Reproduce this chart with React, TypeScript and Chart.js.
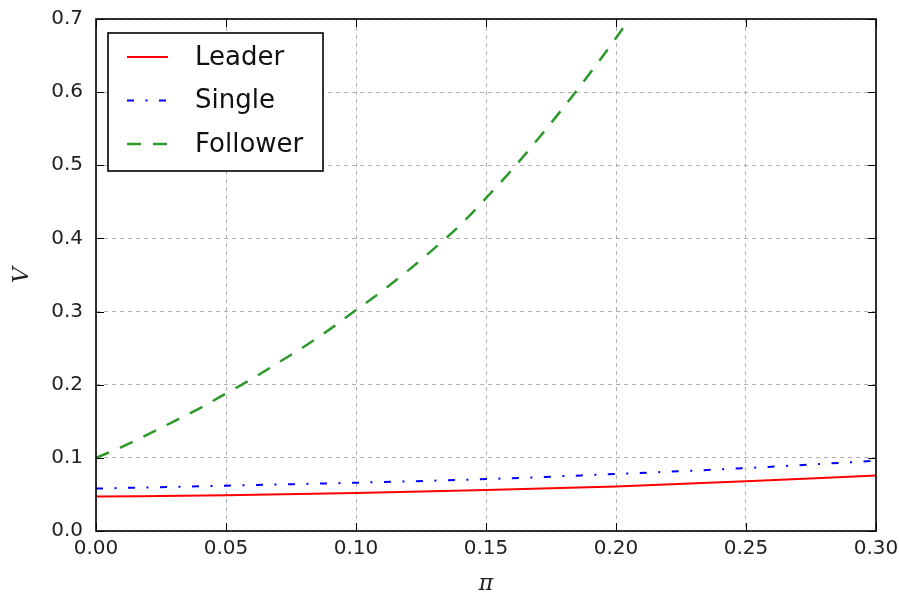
import { useEffect, useRef } from "react";
import { Chart, registerables } from "chart.js";

Chart.register(...registerables);

// ---- data ----
const piLS = [0, 0.05, 0.1, 0.15, 0.2, 0.25, 0.3];
const leaderV = [0.047, 0.049, 0.052, 0.056, 0.061, 0.068, 0.076];
const singleV = [0.058, 0.062, 0.066, 0.071, 0.078, 0.086, 0.096];

const piF = [0, 0.01, 0.02, 0.03, 0.04, 0.05, 0.06, 0.07, 0.08, 0.09, 0.1, 0.11, 0.12, 0.13, 0.14, 0.15, 0.16, 0.17, 0.18, 0.19, 0.2, 0.21];
const followerV = [0.1, 0.115, 0.132, 0.15, 0.168, 0.188, 0.208, 0.23, 0.252, 0.276, 0.302, 0.328, 0.356, 0.386, 0.418, 0.455, 0.494, 0.536, 0.58, 0.626, 0.674, 0.724];

const seriesNames = ["Leader", "Single", "Follower"];
const xLabel = "π";
const yLabel = "V";

const toPts = (xs: number[], ys: number[]) => xs.map((x, i) => ({ x, y: ys[i] }));

const framePlugin = {
  id: "frameAndLegend",
  afterDatasetsDraw(chart: any) {
    const { ctx, chartArea: a, scales } = chart;
    ctx.save();
    // inward ticks
    ctx.strokeStyle = "#000";
    ctx.lineWidth = 1;
    ctx.setLineDash([]);
    const tl = 8;
    ctx.beginPath();
    scales.x.ticks.forEach((t: any) => {
      const p = Math.round(scales.x.getPixelForValue(t.value)) + 0.5;
      ctx.moveTo(p, a.bottom);
      ctx.lineTo(p, a.bottom - tl);
      ctx.moveTo(p, a.top);
      ctx.lineTo(p, a.top + tl);
    });
    scales.y.ticks.forEach((t: any) => {
      const p = Math.round(scales.y.getPixelForValue(t.value)) + 0.5;
      ctx.moveTo(a.left, p);
      ctx.lineTo(a.left + tl, p);
      ctx.moveTo(a.right, p);
      ctx.lineTo(a.right - tl, p);
    });
    ctx.stroke();
    // frame
    ctx.lineWidth = 1.6;
    ctx.strokeRect(a.left, a.top, a.right - a.left, a.bottom - a.top);

    // legend
    const lx = a.left + 12;
    const ly = a.top + 14;
    const lw = 215;
    const lh = 138;
    ctx.fillStyle = "#fff";
    ctx.fillRect(lx, ly, lw, lh);
    ctx.lineWidth = 1.6;
    ctx.strokeStyle = "#000";
    ctx.strokeRect(lx, ly, lw, lh);
    chart.data.datasets.forEach((ds: any, i: number) => {
      const y = ly + 24 + i * 43.5;
      ctx.beginPath();
      ctx.strokeStyle = ds.borderColor;
      ctx.lineWidth = ds.borderWidth;
      ctx.setLineDash(ds.borderDash || []);
      ctx.moveTo(lx + 19, y);
      ctx.lineTo(lx + 60, y);
      ctx.stroke();
      ctx.setLineDash([]);
      ctx.fillStyle = "#111";
      ctx.font = "26px 'DejaVu Sans'";
      ctx.textAlign = "left";
      ctx.textBaseline = "middle";
      ctx.fillText(ds.label, lx + 87, y + 1);
    });
    ctx.restore();
  },
};

export default function App() {
  const ref = useRef<HTMLCanvasElement | null>(null);

  useEffect(() => {
    document.body.style.margin = "0";
    if (!ref.current) return;
    const chart = new Chart(ref.current, {
      type: "line",
      data: {
        datasets: [
          {
            label: seriesNames[0],
            data: toPts(piLS, leaderV),
            borderColor: "#ff0000",
            borderWidth: 2,
            pointRadius: 0,
            cubicInterpolationMode: "monotone",
            fill: false,
          },
          {
            label: seriesNames[1],
            data: toPts(piLS, singleV),
            borderColor: "#0000ff",
            borderWidth: 2,
            borderDash: [7, 11.5, 2, 11.5],
            pointRadius: 0,
            cubicInterpolationMode: "monotone",
            fill: false,
          },
          {
            label: seriesNames[2],
            data: toPts(piF, followerV),
            borderColor: "#2b9a2b",
            borderWidth: 2.5,
            borderDash: [14, 12],
            pointRadius: 0,
            cubicInterpolationMode: "monotone",
            fill: false,
          },
        ],
      },
      options: {
        animation: false,
        responsive: false,
        layout: { padding: { left: 0, right: 23, top: 19, bottom: 0 } },
        plugins: { legend: { display: false }, tooltip: { enabled: false } },
        scales: {
          x: {
            type: "linear",
            min: 0,
            max: 0.3,
            afterFit: (s: any) => {
              s.height = 66;
              s.paddingLeft = 0;
              s.paddingRight = 0;
            },
            ticks: {
              stepSize: 0.05,
              padding: 6,
              color: "#222",
              font: { family: "'DejaVu Sans'", size: 20 },
              callback: (v: any) => Number(v).toFixed(2),
              maxRotation: 0,
            },
            grid: { color: "#b0b0b0", lineWidth: 1, drawTicks: false },
            border: { display: false, dash: [4, 4] },
            title: {
              display: true,
              text: xLabel,
              color: "#222",
              font: { family: "'DejaVu Serif'", style: "italic", size: 22 },
              padding: { top: 0, bottom: 0 },
            },
          },
          y: {
            type: "linear",
            min: 0,
            max: 0.7,
            afterFit: (s: any) => {
              s.width = 96;
              s.paddingTop = 0;
              s.paddingBottom = 0;
            },
            ticks: {
              stepSize: 0.1,
              padding: 13,
              color: "#222",
              font: { family: "'DejaVu Sans'", size: 20 },
              callback: (v: any) => Number(v).toFixed(1),
            },
            grid: { color: "#b0b0b0", lineWidth: 1, drawTicks: false },
            border: { display: false, dash: [4, 4] },
            title: {
              display: true,
              text: yLabel,
              color: "#222",
              font: { family: "'DejaVu Serif'", style: "italic", size: 22 },
              padding: { top: 9, bottom: 0 },
            },
          },
        },
      },
      plugins: [framePlugin],
    });
    return () => chart.destroy();
  }, []);

  return (
    <div style={{ width: 899, height: 597 }}>
      <canvas ref={ref} width={899} height={597} />
    </div>
  );
}
